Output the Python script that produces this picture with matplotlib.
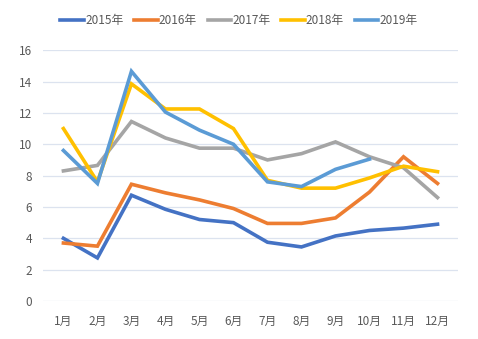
import matplotlib
matplotlib.use('Agg')
import matplotlib.pyplot as plt

plt.rcParams['font.family'] = ['Noto Sans CJK SC', 'DejaVu Sans']

months = ['1月', '2月', '3月', '4月', '5月', '6月', '7月', '8月', '9月', '10月', '11月', '12月']

y2015 = [4.0, 2.75, 6.75, 5.85, 5.2, 5.0, 3.75, 3.45, 4.15, 4.5, 4.65, 4.9]
y2016 = [3.7, 3.5, 7.45, 6.9, 6.45, 5.9, 4.95, 4.95, 5.3, 6.95, 9.2, 7.5]
y2017 = [8.3, 8.65, 11.45, 10.4, 9.75, 9.75, 9.0, 9.4, 10.15, 9.2, 8.5, 6.6]
y2018 = [11.0, 7.6, 13.85, 12.25, 12.25, 11.0, 7.7, 7.2, 7.2, 7.85, 8.6, 8.25]
y2019 = [9.6, 7.5, 14.65, 12.05, 10.9, 10.0, 7.6, 7.3, 8.4, 9.05]

series = [
    ('2015年', y2015, '#4472C4'),
    ('2016年', y2016, '#ED7D31'),
    ('2017年', y2017, '#A5A5A5'),
    ('2018年', y2018, '#FFC000'),
    ('2019年', y2019, '#5B9BD5'),
]

fig = plt.figure(figsize=(4.78, 3.39), dpi=100)
ax = fig.add_axes([0.09, 0.112, 0.868, 0.74])

for name, vals, color in series:
    ax.plot(months[:len(vals)], vals, color=color, linewidth=2.6, label=name,
            solid_joinstyle='miter')

ax.set_ylim(0, 16)
ax.set_yticks(range(0, 17, 2))
ax.set_xlim(-0.6, 11.6)
ax.grid(axis='y', color='#DCE3EF', linewidth=0.9)
ax.set_axisbelow(True)
for s in ax.spines.values():
    s.set_visible(False)
ax.tick_params(axis='both', length=0, labelsize=8.5, colors='#595959', pad=8)
ax.tick_params(axis='x', pad=10)

fig.legend(loc='upper center', bbox_to_anchor=(0.5, 0.99), ncol=5, frameon=False,
           fontsize=8.5, handlelength=2.0, handletextpad=0.1, columnspacing=0.9,
           labelcolor='#595959')

fig.savefig('out.png', dpi=100)
